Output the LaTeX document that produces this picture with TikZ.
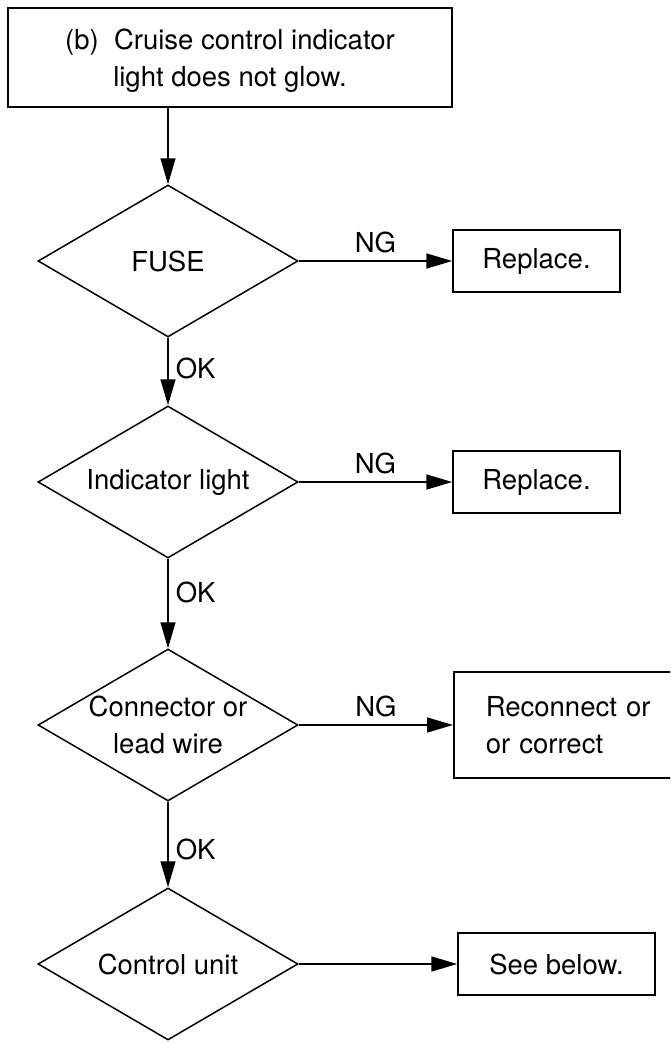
\documentclass[tikz,border=0pt]{standalone}
\usepackage{fontspec}
\setmainfont{TeX Gyre Heros}
\usetikzlibrary{shapes.geometric,arrows.meta}

\begin{document}
\begin{tikzpicture}[x=1pt,y=-1pt,>={Triangle[length=26pt,width=15pt]},line width=1.5pt,
  font=\fontsize{27.5}{37}\selectfont,
  test node/.style={diamond,draw,shape aspect=1.71,minimum width=260pt,minimum height=152pt,inner xsep=-10pt,inner ysep=0pt,align=center},
  fix node/.style={rectangle,draw,minimum height=62pt,align=center}]

  \path[use as bounding box,clip] (0,0) rectangle (670,1044);

  \node[fix node,minimum width=444pt,minimum height=99pt] (start) at (230,57.5) {\rule{0pt}{26pt}(b)\ \ Cruise control indicator\\light does not glow.};
  % checks on the left, what to do on the right
  \node[test node] (fuse) at (168,261) {FUSE};
  \node[fix node,minimum width=167pt] (rep1) at (536.5,261) {Replace.};
  \node[test node] (lamp) at (168,482) {Indicator light};
  \node[fix node,minimum width=167pt] (rep2) at (536.5,482) {Replace.};
  \node[test node] (wire) at (168,725) {Connector or\\lead wire};
  \node[fix node,anchor=west,minimum height=106pt,text width=190pt,inner xsep=32pt,align=left] (fix) at (453,725) {Reconnect or\\or correct};
  \node[test node] (unit) at (168,964) {Control unit};
  \node[fix node,minimum width=197pt] (below) at (556.5,964) {See below.};

  \draw[->] (fuse.north |- start.south) -- (fuse.north);
  \path[->,every node/.style={inner sep=7pt}]
    (fuse) edge node[above] {NG} (rep1)
           edge node[right,pos=.46] {OK} (lamp)
    (lamp) edge node[above] {NG} (rep2)
           edge node[right,pos=.38] {OK} (wire)
    (wire) edge node[above] {NG} (fix)
           edge node[right,pos=.56] {OK} (unit)
    (unit) edge (below);
\end{tikzpicture}
\end{document}
